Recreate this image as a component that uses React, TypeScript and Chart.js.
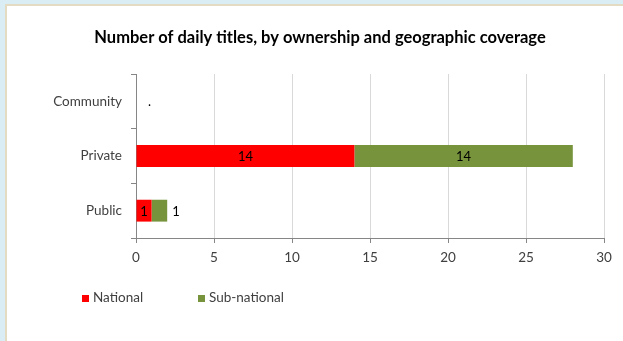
import React, { useEffect, useRef } from "react";
import { Chart, registerables } from "chart.js";

Chart.register(...registerables);

const TITLE = "Number of daily titles, by ownership and geographic coverage";
const categories = ["Community", "Private", "Public"];
const seriesNames = ["National", "Sub-national"];
const nationalValues: (number | null)[] = [null, 14, 1];
const subNationalValues: (number | null)[] = [null, 14, 1];
const nationalLabels = ["", "14", "1"];
const subNationalLabels = [".", "14", "1"];
const xMin = 0;
const xMax = 30;
const xStep = 5;

const RED = "#ff0000";
const GREEN = "#77933c";
const FONT = "Lato, 'Liberation Sans', sans-serif";

const W = 623;
const H = 341;
const AREA = { left: 136, right: 604, top: 74, bottom: 238 };

const labelsPlugin = {
  id: "customLabels",
  afterDatasetsDraw(chart: any) {
    const ctx = chart.ctx;
    const xs = chart.scales.x;
    const allLabels = [nationalLabels, subNationalLabels];
    ctx.save();
    ctx.font = `13px ${FONT}`;
    ctx.fillStyle = "#000000";
    ctx.textBaseline = "middle";
    chart.data.datasets.forEach((ds: any, i: number) => {
      const meta = chart.getDatasetMeta(i);
      meta.data.forEach((el: any, j: number) => {
        const text = allLabels[i][j];
        if (!text) return;
        const v = ds.data[j];
        const yPix = chart.scales.y.getPixelForValue(j);
        if (v == null) {
          ctx.textAlign = "left";
          ctx.fillText(text, xs.getPixelForValue(0) + 12, yPix);
          return;
        }
        const start = el.base;
        const end = el.x;
        const isLast = i === chart.data.datasets.length - 1;
        if (isLast && v < 2) {
          ctx.textAlign = "left";
          ctx.fillText(text, end + 5, yPix + 1);
        } else {
          ctx.textAlign = "center";
          ctx.fillText(text, (start + end) / 2, yPix + 1);
        }
      });
    });
    ctx.restore();
  },
};

const decorPlugin = {
  id: "decor",
  afterDraw(chart: any) {
    const ctx = chart.ctx;
    ctx.save();
    ctx.font = `bold 16.5px ${FONT}`;
    ctx.fillStyle = "#000000";
    ctx.textAlign = "center";
    ctx.textBaseline = "middle";
    ctx.fillText(TITLE, 320, 38);

    ctx.font = `13.5px ${FONT}`;
    ctx.textAlign = "left";
    const starts = [82, 198];
    chart.data.datasets.forEach((ds: any, i: number) => {
      const x = starts[i];
      const y = 298;
      ctx.fillStyle = ds.backgroundColor;
      ctx.fillRect(x, y - 3, 7, 7);
      ctx.fillStyle = "#404040";
      ctx.fillText(ds.label, x + 11, y);
    });
    ctx.restore();
  },
};

export default function App() {
  const ref = useRef<HTMLCanvasElement | null>(null);
  useEffect(() => {
    document.body.style.margin = "0";
    const canvas = ref.current;
    if (!canvas) return;
    const chart = new Chart(canvas, {
      type: "bar",
      data: {
        labels: categories,
        datasets: [
          {
            label: seriesNames[0],
            data: nationalValues,
            backgroundColor: RED,
            categoryPercentage: 1,
            barPercentage: 0.4,
          },
          {
            label: seriesNames[1],
            data: subNationalValues,
            backgroundColor: GREEN,
            categoryPercentage: 1,
            barPercentage: 0.4,
          },
        ],
      },
      options: {
        indexAxis: "y",
        animation: false,
        responsive: false,
        maintainAspectRatio: false,
        layout: {
          padding: { top: AREA.top, right: W - AREA.right, bottom: 0, left: 0 },
        },
        plugins: {
          legend: { display: false },
          title: { display: false },
          tooltip: { enabled: false },
        },
        scales: {
          x: {
            stacked: true,
            min: xMin,
            max: xMax,
            ticks: {
              stepSize: xStep,
              color: "#404040",
              font: { family: FONT, size: 13.5 },
              padding: 7,
              maxRotation: 0,
            },
            grid: {
              color: "#d9d9d9",
              tickColor: "#868686",
              tickLength: 5,
              drawTicks: true,
            },
            border: { color: "#868686", width: 1 },
            afterFit(s: any) {
              s.height = H - AREA.bottom;
            },
          },
          y: {
            stacked: true,
            ticks: {
              color: "#404040",
              font: { family: FONT, size: 13.5 },
              padding: 9,
            },
            grid: {
              drawOnChartArea: false,
              tickColor: "#868686",
              tickLength: 5,
              offset: true,
            },
            border: { color: "#868686", width: 1 },
            afterFit(s: any) {
              s.width = AREA.left;
            },
          },
        },
      },
      plugins: [labelsPlugin, decorPlugin],
    });
    return () => chart.destroy();
  }, []);

  return (
    <div style={{ position: "relative", width: W, height: H, background: "#daedf4", overflow: "hidden" }}>
      <div
        style={{
          position: "absolute",
          left: 5,
          top: 4,
          width: W,
          height: H,
          background: "#ffffff",
          borderLeft: "2px solid #e3dcc2",
          borderTop: "2px solid #e3dcc2",
        }}
      />
      <canvas ref={ref} width={W} height={H} style={{ position: "absolute", left: 0, top: 0 }} />
    </div>
  );
}
